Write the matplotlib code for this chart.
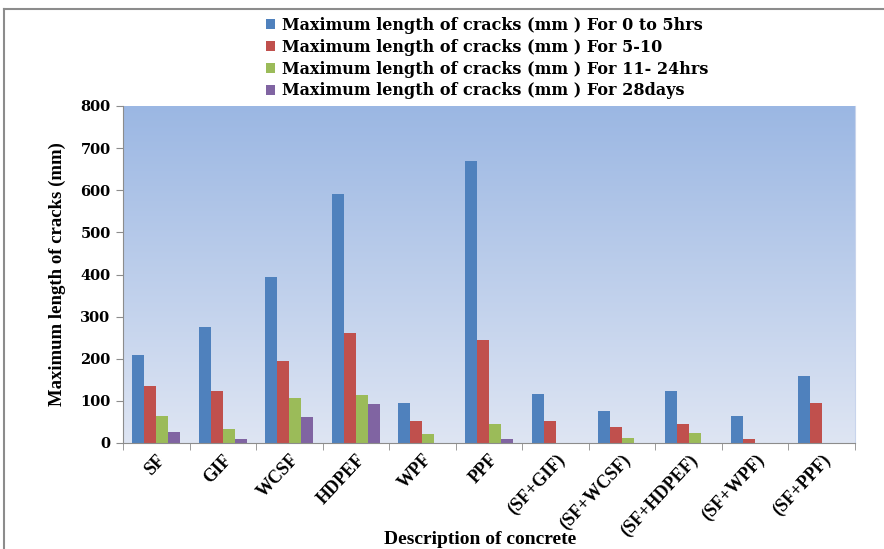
import numpy as np
import matplotlib.pyplot as plt
from matplotlib.lines import Line2D

# Data
categories = ['SF', 'GIF', 'WCSF', 'HDPEF', 'WPF', 'PPF', '(SF+GIF)',
              '(SF+WCSF)', '(SF+HDPEF)', '(SF+WPF)', '(SF+PPF)']
cracks_0_5 = [210, 275, 393, 590, 94, 670, 116, 75, 123, 63, 159]
cracks_5_10 = [135, 123, 194, 262, 52, 245, 52, 37, 44, 10, 94]
cracks_11_24 = [63, 34, 108, 114, 21, 44, 0, 11, 23, 0, 0]
cracks_28d = [26, 10, 62, 93, 0, 10, 0, 0, 0, 0, 0]

series_labels = ['Maximum length of cracks (mm ) For 0 to 5hrs',
                 'Maximum length of cracks (mm ) For 5-10',
                 'Maximum length of cracks (mm ) For 11- 24hrs',
                 'Maximum length of cracks (mm ) For 28days']
colors = ['#4F81BD', '#C0504D', '#9BBB59', '#8064A2']

serif_wide = 'DejaVu Serif'
serif = 'Liberation Serif'

fig = plt.figure(figsize=(8.84, 5.49), dpi=100)
ax = fig.add_axes([123 / 884, 1 - 443 / 549, (855 - 123) / 884, (443 - 106) / 549])

# gradient background of plot area
grad = np.linspace(0, 1, 256).reshape(-1, 1)
top = np.array([0x9B, 0xB7, 0xE3]) / 255
bot = np.array([0xDE, 0xE5, 0xF3]) / 255
img = top + (bot - top) * grad[:, :, None]
ax.imshow(img, extent=(-0.5, 10.5, 0, 800), aspect='auto', zorder=0)

x = np.arange(len(categories))
width = 0.18
all_series = [cracks_0_5, cracks_5_10, cracks_11_24, cracks_28d]
for i, (vals, lab, col) in enumerate(zip(all_series, series_labels, colors)):
    ax.bar(x + (i - 1.5) * width, vals, width, color=col, label=lab,
           edgecolor='none', zorder=2)

ax.set_xlim(-0.5, 10.5)
ax.set_ylim(0, 800)
ax.set_yticks(range(0, 801, 100))
ax.set_yticklabels([str(v) for v in range(0, 801, 100)],
                   fontfamily=serif_wide, fontweight='bold', fontsize=10.5)
ax.tick_params(axis='y', direction='out', length=5, color='#8C8C8C', pad=4)

# category labels at centers, tick marks at boundaries
ax.set_xticks(x)
ax.set_xticklabels(categories, rotation=47, ha='right', rotation_mode='anchor',
                   fontfamily=serif, fontweight='bold', fontsize=13)
ax.tick_params(axis='x', length=0, pad=6)
ax.set_xticks(np.arange(-0.5, 11, 1), minor=True)
ax.tick_params(axis='x', which='minor', direction='out', length=5, color='#8C8C8C')

ax.spines['top'].set_visible(False)
ax.spines['right'].set_color('#C8D4EC')
ax.spines['left'].set_color('#8C8C8C')
ax.spines['bottom'].set_color('#8C8C8C')

ax.set_ylabel('Maximum length of cracks (mm)', fontfamily=serif,
              fontweight='bold', fontsize=13.5, labelpad=10)
fig.text(480 / 884, 1 - 539 / 549, 'Description of concrete', ha='center',
         va='center', fontfamily=serif, fontweight='bold', fontsize=14)

leg = fig.legend(loc='upper center', bbox_to_anchor=(487 / 884, 1 - 9 / 549),
                 frameon=False, prop={'family': serif_wide, 'weight': 'bold', 'size': 11.5},
                 handlelength=0.6, handleheight=0.6, handletextpad=0.4,
                 labelspacing=0.3, borderpad=0)

# outer chart border
fig.add_artist(Line2D([4 / 884, 1], [1 - 9 / 549, 1 - 9 / 549],
                      transform=fig.transFigure, color='#8C8C8C', lw=1.5))
fig.add_artist(Line2D([4 / 884, 4 / 884], [0, 1 - 9 / 549],
                      transform=fig.transFigure, color='#8C8C8C', lw=1.5))

fig.savefig('out.png', dpi=100)
